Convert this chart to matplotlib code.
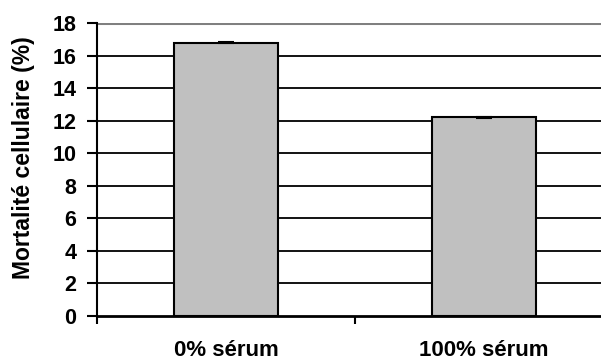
import matplotlib.pyplot as plt
from matplotlib.ticker import FixedLocator

# data
categories = ["0% sérum", "100% sérum"]
mortality = [16.8, 12.2]
errors = [0.05, 0.05]
y_ticks = [0, 2, 4, 6, 8, 10, 12, 14, 16, 18]

plt.rcParams['font.family'] = ['Liberation Sans', 'DejaVu Sans']
plt.rcParams['font.weight'] = 'bold'

fig = plt.figure(figsize=(6.01, 3.62), dpi=100)
ax = fig.add_axes([97 / 601, 1 - 316 / 362, 516 / 601, 293 / 362])

x = list(range(len(categories)))
ax.bar(x, mortality, width=0.4, color="#c0c0c0", edgecolor="black", linewidth=1.5, zorder=3)
ax.errorbar(x, mortality, yerr=errors, fmt="none", ecolor="black", capsize=6, capthick=1.5,
            elinewidth=1.5, zorder=4)

ax.set_xlim(-0.5, 1.5)
ax.set_ylim(0, 18)
ax.set_yticks(y_ticks)
for y in y_ticks[1:-1]:
    ax.axhline(y, color="black", linewidth=1.3, zorder=1)
ax.axhline(18, color="#808080", linewidth=2.2, zorder=1)

ax.set_xticks(x)
ax.set_xticklabels(categories, fontsize=16, fontweight="bold")
ax.xaxis.set_minor_locator(FixedLocator([-0.5, 0.5, 1.5]))
ax.tick_params(axis="x", which="major", length=0, pad=17)
ax.tick_params(axis="x", which="minor", length=6, width=1.5, direction="out")
ax.tick_params(axis="y", length=7.5, width=1.5, labelsize=15.5, pad=7.5)
for lab in ax.get_yticklabels():
    lab.set_fontweight("bold")

ax.set_ylabel("Mortalité cellulaire (%)", fontsize=16.5, fontweight="bold")
ax.yaxis.set_label_coords(-0.12, 0.541)

for side in ["top", "right"]:
    ax.spines[side].set_visible(False)
ax.spines["left"].set_linewidth(1.5)
ax.spines["bottom"].set_linewidth(2)

fig.savefig("out.png", dpi=100)
